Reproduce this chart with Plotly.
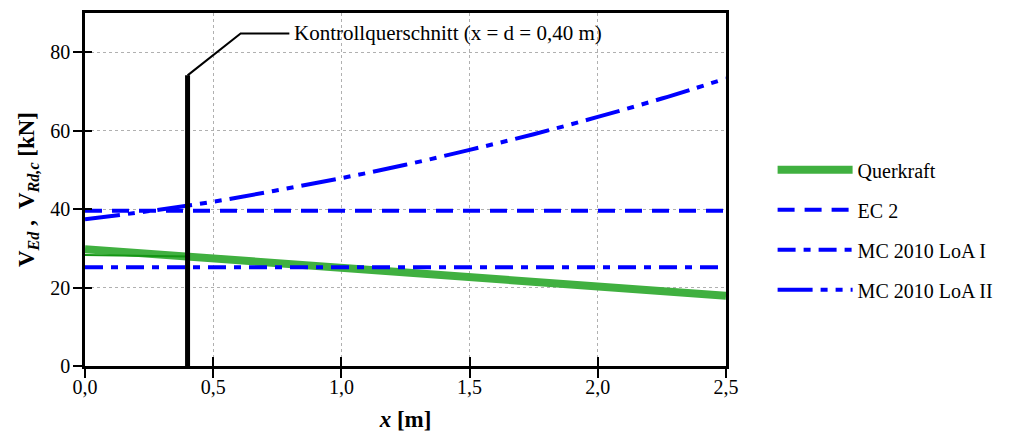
import plotly.graph_objects as go

# ---- data ----
x_q = [0.0, 0.5, 1.0, 1.5, 2.0, 2.5]
querkraft = [29.8, 27.4, 25.1, 22.7, 20.3, 17.9]
x_edge = [0.0, 0.4]
querkraft_edge = [28.3, 27.9]
x_h = [0.0, 2.5]
ec2 = [39.6, 39.6]
mc_loa1 = [25.2, 25.2]
x_c = [0.0, 0.25, 0.5, 0.75, 1.0, 1.25, 1.5, 1.75, 2.0, 2.25, 2.5]
mc_loa2 = [37.4, 39.5, 41.9, 44.8, 47.9, 51.3, 55.1, 59.1, 63.5, 68.2, 73.3]
x_ctrl = [0.4, 0.4]
y_ctrl = [-1.0, 74.1]
x_leader = [0.4, 0.607, 0.797]
y_leader = [74.1, 84.8, 84.8]
ctrl_label = "Kontrollquerschnitt (x = d = 0,40 m)"
x_tickvals = [0.0, 0.5, 1.0, 1.5, 2.0, 2.5]
x_ticktext = ["0,0", "0,5", "1,0", "1,5", "2,0", "2,5"]
y_tickvals = [0, 20, 40, 60, 80]
y_ticktext = ["0", "20", "40", "60", "80"]

FONT = "Liberation Serif"
BLUE = "rgb(0,0,255)"
GREEN = "rgb(64,176,64)"

fig = go.Figure()
fig.add_trace(go.Scatter(x=x_q, y=querkraft, mode="lines", name="Querkraft",
                         line=dict(color=GREEN, width=8), legendgroup="q"))
fig.add_trace(go.Scatter(x=x_edge, y=querkraft_edge, mode="lines", showlegend=False,
                         line=dict(color="rgb(20,150,20)", width=2), hoverinfo="skip"))
fig.add_trace(go.Scatter(x=x_h, y=ec2, mode="lines", name="EC 2",
                         line=dict(color=BLUE, width=4, dash="17px,10px"), legendgroup="ec"))
fig.add_trace(go.Scatter(x=x_h, y=mc_loa1, mode="lines", name="MC 2010 LoA I",
                         line=dict(color=BLUE, width=4, dash="18px,8px,7px,8px"), legendgroup="l1"))
fig.add_trace(go.Scatter(x=x_c, y=mc_loa2, mode="lines", name="MC 2010 LoA II",
                         line=dict(color=BLUE, width=4, dash="35px,8px,7px,8px,7px,8px"),
                         line_shape="spline", legendgroup="l2"))
fig.add_trace(go.Scatter(x=x_ctrl, y=y_ctrl, mode="lines", showlegend=False,
                         line=dict(color="black", width=5), hoverinfo="skip"))
fig.add_trace(go.Scatter(x=x_leader, y=y_leader, mode="lines", showlegend=False,
                         line=dict(color="black", width=2), hoverinfo="skip"))

fig.add_annotation(x=x_leader[-1], y=y_leader[-1], text=ctrl_label, showarrow=False,
                   xanchor="left", yanchor="middle", xshift=3,
                   font=dict(family=FONT, size=21, color="black"))

axis_common = dict(showline=True, linecolor="black", linewidth=2.5, mirror=True,
                   ticks="outside", ticklen=9, tickwidth=2, tickcolor="black",
                   showgrid=True, gridcolor="#b0b0b0", gridwidth=1, griddash="dot",
                   zeroline=False, automargin=False,
                   tickfont=dict(family=FONT, size=20, color="black"))

fig.update_layout(
    width=1010, height=432,
    margin=dict(l=85, r=282, t=13, b=66),
    paper_bgcolor="white", plot_bgcolor="white",
    font=dict(family=FONT, color="black"),
    xaxis=dict(range=[0, 2.5], tickvals=x_tickvals, ticktext=x_ticktext,
               ticklabelstandoff=-8,
               title=dict(text="<b><i>x</i> [m]</b>", font=dict(family=FONT, size=23), standoff=16),
               **axis_common),
    yaxis=dict(range=[0, 90], tickvals=y_tickvals, ticktext=y_ticktext,
               ticklabelstandoff=-1,
               title=dict(text="<b>V<sub><i>Ed</i></sub> ,  V<sub><i>Rd,c</i></sub> [kN]</b>",
                          font=dict(family=FONT, size=23), standoff=10),
               **axis_common),
    xaxis2=dict(overlaying="x", range=[0, 2.5], tickvals=x_tickvals, showticklabels=False,
                ticks="inside", ticklen=9, tickwidth=2, tickcolor="black",
                showgrid=False, zeroline=False, showline=False, side="bottom"),
    yaxis2=dict(overlaying="y", range=[0, 90], tickvals=y_tickvals, showticklabels=False,
                ticks="inside", ticklen=7, tickwidth=2, tickcolor="black",
                showgrid=False, zeroline=False, showline=False, side="left"),
    legend=dict(x=1.0727, y=0.611, xanchor="left", yanchor="top",
                font=dict(family=FONT, size=20, color="black"),
                itemwidth=75, tracegroupgap=11, bgcolor="rgba(0,0,0,0)"),
    showlegend=True,
)
# invisible trace so overlay axes are drawn
fig.add_trace(go.Scatter(x=[0], y=[0], xaxis="x2", yaxis="y2", mode="markers",
                         marker=dict(opacity=0), showlegend=False, hoverinfo="skip"))

fig.write_html("out.html")
